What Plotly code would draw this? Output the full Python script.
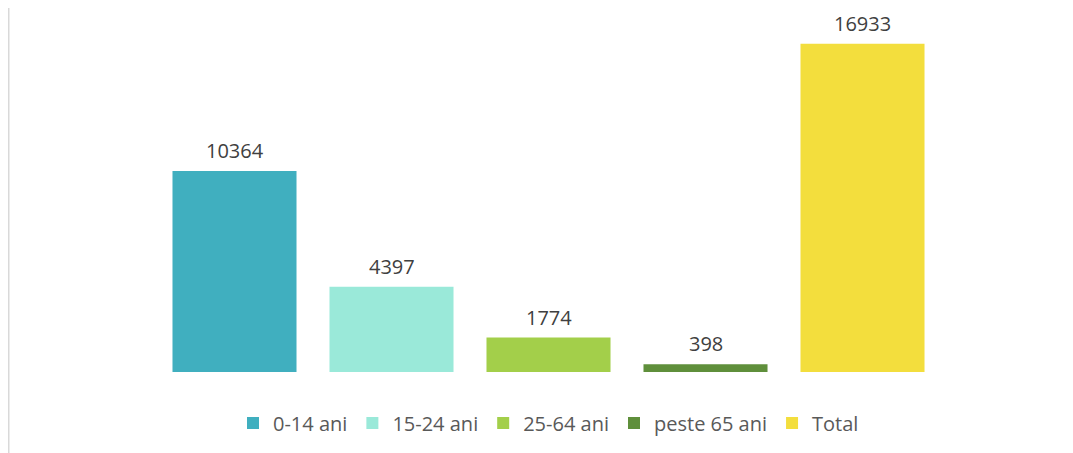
import plotly.graph_objects as go

categories = ["0-14 ani", "15-24 ani", "25-64 ani", "peste 65 ani", "Total"]
values = [10364, 4397, 1774, 398, 16933]
colors = ["#40AFBF", "#9AE9D9", "#A3CF4A", "#5F8F3B", "#F3DE3D"]

# page has ~7px body offset; compensate
W, H = 1065, 445
ml, mt = 148, 0
pw, ph = 785, 364
mr = W - ml - pw
mb = H - mt - ph
ymax = 18000 * ph / 349.0

fig = go.Figure()
for c, v, col in zip(categories, values, colors):
    fig.add_trace(go.Bar(x=[c], y=[v], name=c, marker_color=col,
                         marker_line_width=0, hoverinfo="x+y"))

for c, v in zip(categories, values):
    fig.add_annotation(x=c, y=v, text=str(v), showarrow=False,
                       yanchor="bottom", yshift=6, borderpad=0,
                       font=dict(family="Open Sans", size=20, color="#404040"))

# thin gray frame line on the left
fig.add_shape(type="line", xref="paper", yref="paper",
              x0=(0.5 - ml) / pw, x1=(0.5 - ml) / pw,
              y0=-(mb + 10) / ph, y1=1 + 10 / ph,
              line=dict(color="#D9D9D9", width=2))

fig.update_layout(
    width=W, height=H,
    margin=dict(l=ml, r=mr, t=mt, b=mb, pad=0),
    barmode="overlay",
    bargap=0.21,
    plot_bgcolor="white", paper_bgcolor="white",
    xaxis=dict(visible=False, categoryorder="array", categoryarray=categories),
    yaxis=dict(visible=False, range=[0, ymax]),
    showlegend=True,
    legend=dict(orientation="h", x=0.5, xanchor="center",
                y=-51 / ph, yanchor="middle",
                font=dict(family="Open Sans", size=20, color="#595959"),
                itemwidth=30, traceorder="normal"),
)

fig.write_html("out.html")
